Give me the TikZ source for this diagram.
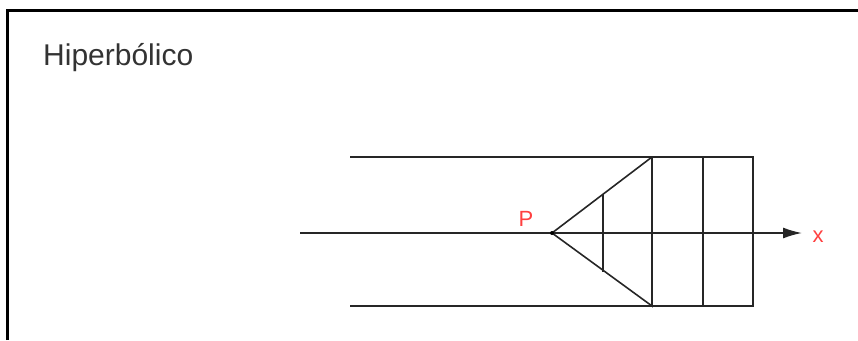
\documentclass[tikz,border=0pt]{standalone}
\usepackage{fontspec}
\setmainfont{Liberation Sans}
\usetikzlibrary{positioning,arrows.meta}

\begin{document}
\begin{tikzpicture}[
        x=1pt,y=-1pt,
        frame/.style={
          draw=black,
          line width=3pt
          },
        edge/.style={
          draw=black!85,
          line width=1.6pt
          },
        lbl/.style={
          text=red!75!white,
          font=\fontsize{22}{22}\selectfont,
          inner sep=0pt
          },
        >={Latex[length=19pt,width=11pt]}
        ]
        \useasboundingbox (0,0) rectangle (858,340);
        \draw[frame] (7,340) -- (7,10) -- (858,10);
        \node[anchor=base west,inner sep=0pt,text=black!80,font=\fontsize{30}{30}\selectfont] (title) at (43,65) {Hiperbólico};
        % band and axis
        \coordinate (tl) at (350,157);
        \coordinate (bl) at (350,306);
        \coordinate (tr) at (753,157);
        \coordinate (br) at (753,306);
        \coordinate (ax0) at (300,233);
        \coordinate (ax1) at (802,233);
        \coordinate (p) at (552,233);
        \coordinate (t1) at (652,157);
        \coordinate (b1) at (652,306);
        \coordinate (t2) at (703,157);
        \coordinate (b2) at (703,306);
        \coordinate (t3) at (603,194);
        \coordinate (b3) at (603,272);
        \draw[edge] (tl) -- (tr) -- (br) -- (bl);
        \draw[edge,->] (ax0) -- (ax1);
        \draw[edge] (t1) -- (p) -- (b1) -- (t1);
        \draw[edge] (t2) -- (b2);
        \draw[edge] (t3) -- (b3);
        \fill[black] (p) circle (2pt);
        \node[lbl] (plabel) at (526,219) {P};
        \node[lbl] (xlabel) at (818,237) {x};
\end{tikzpicture}
\end{document}
